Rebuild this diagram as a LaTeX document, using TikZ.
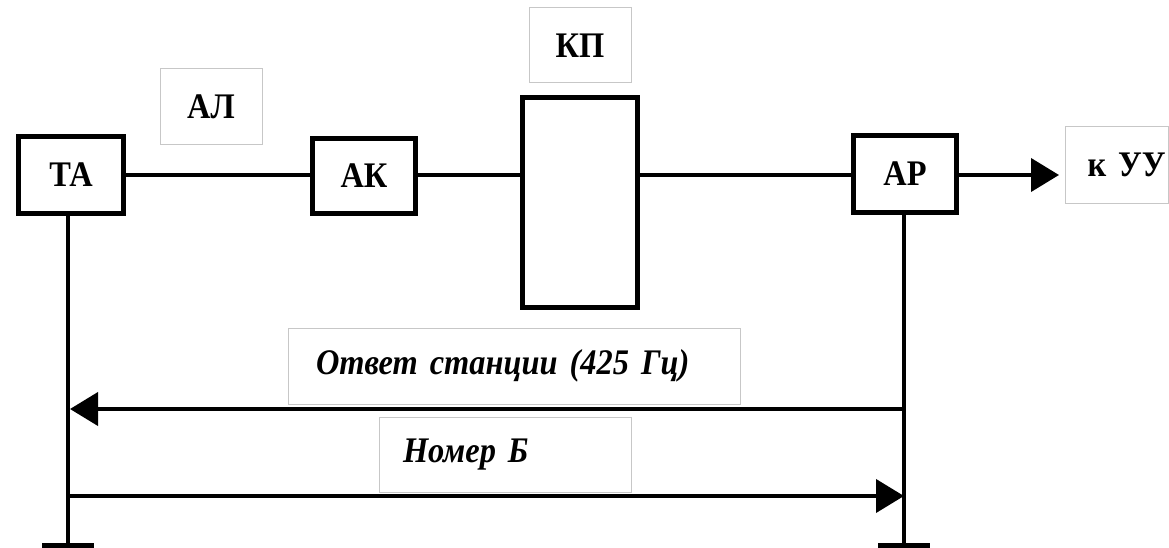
\documentclass[tikz,border=0pt]{standalone}
\usepackage{fontspec}
\setmainfont{Liberation Serif}
\newfontfamily\labfont[FakeStretch=0.9,WordSpace=0.65]{Liberation Serif}
\usetikzlibrary{arrows.meta}
\begin{document}
\begin{tikzpicture}[x=1pt,y=-1pt,
  blk/.style={draw=black,line width=5pt,fill=white,inner sep=0pt,
    font=\labfont\bfseries\fontsize{36}{40}\selectfont},
  lbl/.style={draw=black!22,line width=1pt,inner sep=0pt,
    font=\labfont\bfseries\fontsize{36}{40}\selectfont},
  ilbl/.style={draw=black!22,line width=1pt,inner ysep=0pt,align=left,
    font=\labfont\bfseries\itshape\fontsize{36}{40}\selectfont},
  wire/.style={line width=4pt},
  arr/.style={line width=4pt,-{Triangle[length=28pt,width=33pt]}},
  bar/.style={line width=5pt}
]
\useasboundingbox (0,0) rectangle (1169,548);
% blocks
\node[blk,minimum width=105,minimum height=76] (TA) at (71,175) {ТА};
\node[blk,minimum width=103,minimum height=74] (AK) at (364,176) {АК};
\node[blk,minimum width=115,minimum height=210] (KP) at (580,202.5) {};
\node[blk,minimum width=103,minimum height=76] (AR) at (905,174) {АР};
% labels
\node[lbl,minimum width=102,minimum height=76] (AL) at (211,107) {АЛ};
\node[lbl,minimum width=102,minimum height=75] (KPl) at (580,45.5) {КП};
\node[lbl,minimum height=76,anchor=west,inner xsep=22,text width=59,align=left] (UU) at (1065,165) {\mbox{к УУ}};
\node[ilbl,minimum height=76,inner xsep=28,text width=396] (OS) at (514,366) {Ответ станции (425 Гц)};
\node[ilbl,minimum height=75,inner xsep=24,text width=204] (NB) at (505,454.5) {Номер Б};
% wires
\draw[wire] (TA.east |- 0,175) -- (AK.west |- 0,175);
\draw[wire] (AK.east |- 0,175) -- (KP.west |- 0,175);
\draw[wire] (KP.east |- 0,175) -- (AR.west |- 0,175);
\draw[arr] (AR.east |- 0,175) -- (UU.west |- 0,175) [shorten >=6pt];
% verticals
\coordinate (Lb) at (68,545);
\coordinate (Rb) at (904,545);
\draw[wire] (TA.south -| Lb) -- (Lb);
\draw[wire] (AR.south -| Rb) -- (Rb);
\draw[bar] ([xshift=-26pt]Lb) -- ([xshift=26pt]Lb);
\draw[bar] ([xshift=-26pt]Rb) -- ([xshift=26pt]Rb);
% signal arrows
\coordinate (R1) at (904,409);
\coordinate (L1) at (68,409);
\coordinate (L2) at (68,496);
\coordinate (R2) at (904,496);
\draw[arr] (R1) -- ([xshift=2pt]L1);
\draw[arr] (L2) -- (R2);
\end{tikzpicture}
\end{document}
